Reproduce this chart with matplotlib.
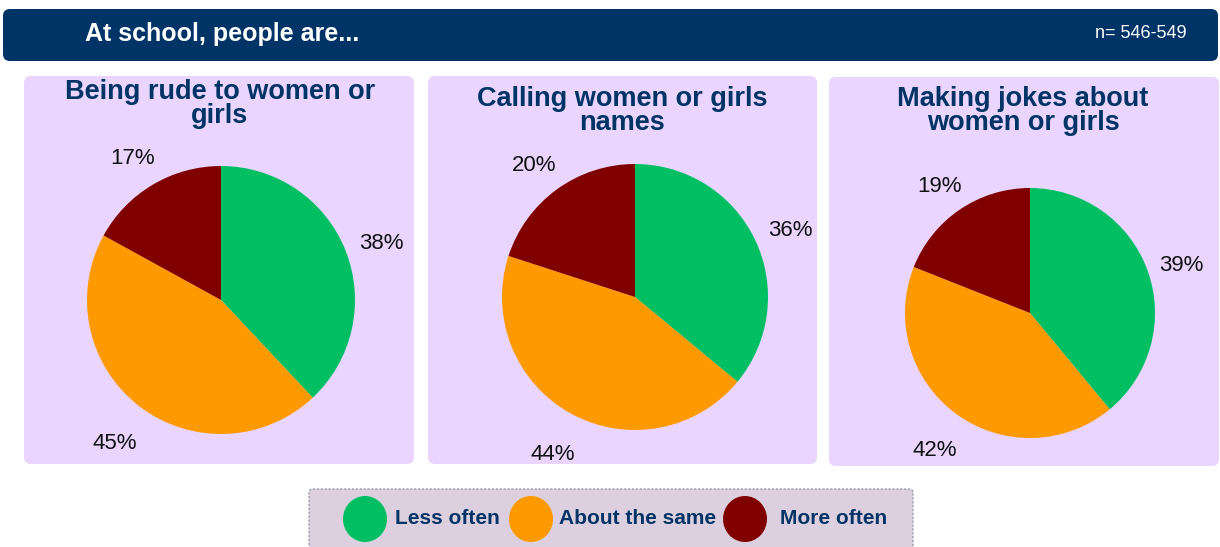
import matplotlib
matplotlib.use("Agg")
import matplotlib.pyplot as plt
import matplotlib.transforms as mtransforms
from matplotlib.patches import FancyBboxPatch, Ellipse

plt.rcParams["font.family"] = ["Liberation Sans", "DejaVu Sans"]

# --- data ---
header = "At school, people are..."
n_note = "n= 546-549"
titles = ["Being rude to women or\ngirls",
          "Calling women or girls\nnames",
          "Making jokes about\nwomen or girls"]
categories = ["Less often", "About the same", "More often"]
less_often = [38, 36, 39]
about_same = [45, 44, 42]
more_often = [17, 20, 19]

colors = ["#00BF63", "#FF9900", "#800000"]
navy = "#003366"
lavender = "#E9D5FD"

W, H = 1220, 547
fig = plt.figure(figsize=(W / 100, H / 100), dpi=100)
fig.patch.set_facecolor("white")

# background layer in pixel units (y grows downwards)
bg = fig.add_axes([0, 0, 1, 1])
bg.set_xlim(0, W)
bg.set_ylim(H, 0)
bg.axis("off")

# header bar
bg.add_patch(FancyBboxPatch((3, 9), 1215, 52, boxstyle="round,pad=0,rounding_size=7",
                            facecolor="#003366", edgecolor="none"))
bg.text(85, 34, header, color="white", fontsize=18, fontweight="bold", va="center", ha="left")
bg.text(1187, 33, n_note, color="white", fontsize=13, va="center", ha="right")

# panel boxes, pie centres and radii (pixels)
panels = [(24, 76, 390, 388), (428, 76, 389, 388), (829, 77, 390, 389)]
pie_centres = [(221, 300), (635, 297), (1030, 313)]
pie_radii = [134, 133, 125]
title_pos = [(220, 104), (622, 111), (1023, 111)]

# percent labels sit a little below the radial position
label_shift = mtransforms.ScaledTranslation(0, -7 / 100, fig.dpi_scale_trans)

for i in range(3):
    x, y, w, h = panels[i]
    bg.add_patch(FancyBboxPatch((x, y), w, h, boxstyle="round,pad=0,rounding_size=7",
                                facecolor=lavender, edgecolor="none"))
    tx, ty = title_pos[i]
    bg.text(tx, ty, titles[i], color=navy, fontsize=19.5, fontweight="bold",
            ha="center", va="center", linespacing=0.88)

    cx, cy = pie_centres[i]
    r = pie_radii[i]
    ax = fig.add_axes([(cx - r) / W, (H - cy - r) / H, 2 * r / W, 2 * r / H])
    vals = [less_often[i], about_same[i], more_often[i]]
    wedges, _, autotexts = ax.pie(vals, colors=colors, startangle=90, counterclock=False,
                                  autopct=lambda p: f"{p:.0f}%", pctdistance=1.29,
                                  wedgeprops=dict(linewidth=0),
                                  textprops=dict(fontsize=16, color="#111111"))
    for t in autotexts:
        t.set_transform(t.get_transform() + label_shift)
    ax.set_xlim(-1, 1)
    ax.set_ylim(-1, 1)
    ax.set_aspect("equal")
    ax.axis("off")

# legend box
bg.add_patch(FancyBboxPatch((309, 489), 604, 70, boxstyle="round,pad=0,rounding_size=4",
                            facecolor="#DCD0E0", edgecolor="#8A8AA0", linewidth=0.8,
                            linestyle=(0, (2, 1.5))))
marker_x = [365, 531, 745]
label_x = [395, 559, 780]
for i, cat in enumerate(categories):
    bg.add_patch(Ellipse((marker_x[i], 519), 44, 46, facecolor=colors[i], edgecolor="none"))
    bg.text(label_x[i], 518, cat, color=navy, fontsize=15, fontweight="bold",
            ha="left", va="center")

fig.savefig("out.png", dpi=100)
